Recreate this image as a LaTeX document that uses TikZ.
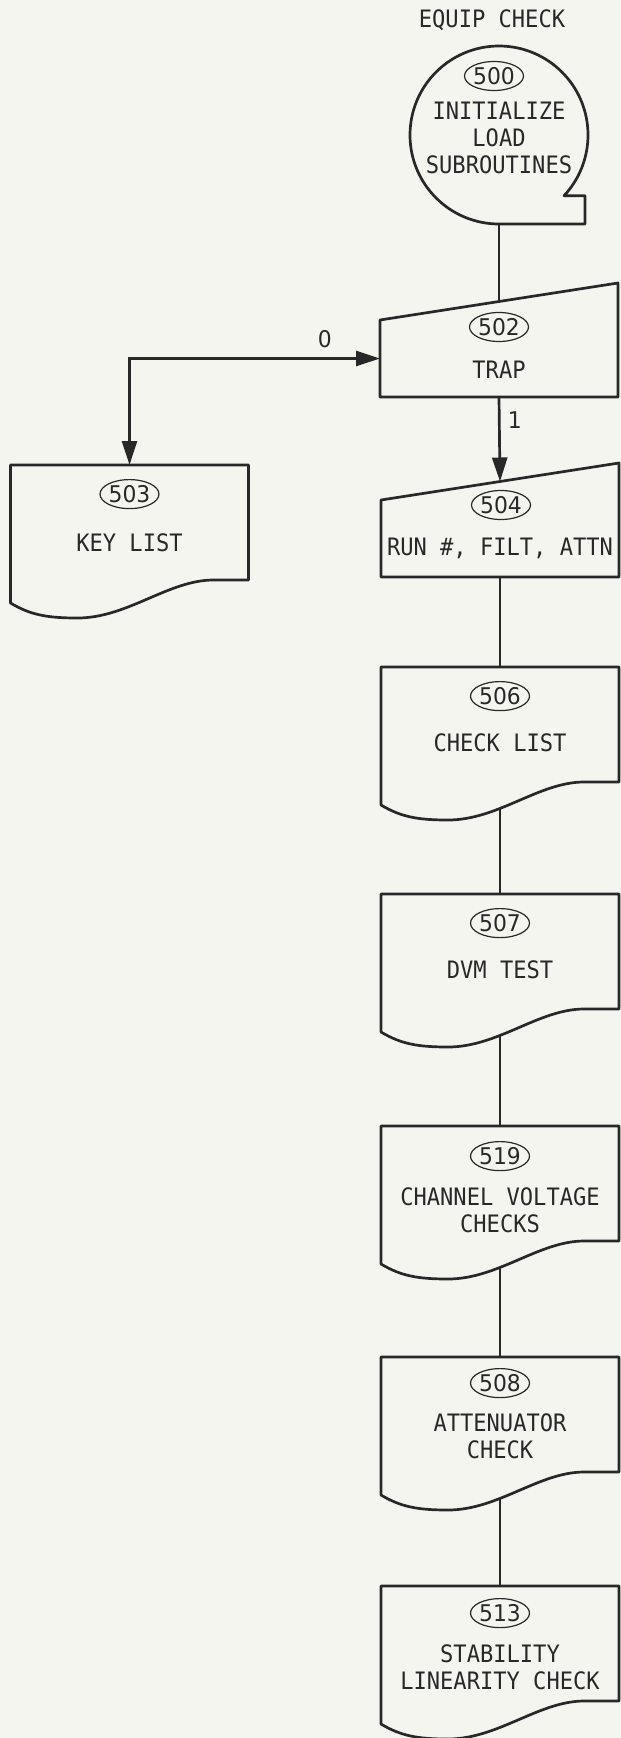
\documentclass[tikz,border=0pt]{standalone}
\usepackage{fontspec}
\setmainfont{DejaVu Sans Mono}[FakeStretch=0.92]
\newfontfamily\numfont{DejaVu Sans}[FakeStretch=0.95]
\usetikzlibrary{positioning,arrows.meta,calc,shapes.geometric}
\definecolor{paper}{RGB}{245,245,240}
\definecolor{ink}{RGB}{40,40,40}
\tikzset{
  emptyframe/.style={inner sep=0pt,outer sep=0pt},
  docbox/.style={emptyframe,minimum width=238pt,minimum height=138pt,anchor=north},
  trapbox/.style={emptyframe,minimum width=238pt,minimum height=77pt},
  boxline/.style={draw=ink,line width=2.7pt,fill=paper,line join=round},
  numoval/.style={draw=ink,ellipse,line width=1.2pt,fill=paper,inner sep=0pt,
    minimum width=50pt,minimum height=29pt,font=\numfont\fontsize{23}{25}\selectfont},
  flowlabel/.style={font=\numfont\fontsize{23}{25}\selectfont},
  boxtext/.style={align=center},
  flow/.style={draw=ink,line width=2.7pt},
  onetip/.style={-{Triangle[length=24pt,width=15pt]}},
  twotips/.style={{Triangle[length=24pt,width=15pt]}-{Triangle[length=24pt,width=15pt]}},
}
% outlines hung on the (empty) frame nodes
\newcommand{\trapoutline}[1]{%
  \draw[boxline] (#1.south west) -- (#1.north west)
    -- ($(#1.north east)+(0,-37)$) -- (#1.south east) -- cycle;}
\newcommand{\docoutline}[1]{%
  \draw[boxline] (#1.south west) -- (#1.north west) -- (#1.north east)
    -- ($(#1.south east)+(0,-23)$) -- ++(-35,0)
    .. controls +(-45,0) and +(50,0) .. ($(#1.south west)+(67,15)$)
    .. controls +(-30,0) and +(20,12) .. (#1.south west) -- cycle;}

\begin{document}
\begin{tikzpicture}[x=1pt,y=-1pt,font=\fontsize{24}{27}\selectfont,text=ink]
  \fill[paper] (0,0) rectangle (621,1738);
  \useasboundingbox (0,0) rectangle (621,1738);

  % frames first, outlines after the flow lines
  \node[emptyframe,circle,minimum size=178pt] (start) at (499,135) {};
  \node[trapbox] (trap) at (499,358.5) {};
  \node[trapbox] (runfilt) at (500,538.5) {};
  \node[docbox] (keylist) at (129.5,465) {};
  \node[docbox] (checklist) at (500,667) {};
  \node[docbox] (dvmtest) at (500,894) {};
  \node[docbox] (chanvolt) at (500,1126) {};
  \node[docbox] (attncheck) at (500,1357) {};
  \node[docbox] (stabcheck) at (500,1586) {};
  \coordinate (in504) at ($(runfilt.north)+(0,-18.5)$);

  % flow lines
  \draw[flow] (start.south) -- (trap.north);
  \draw[flow,onetip] (trap.south) -- node[pos=0.27,right=4pt,flowlabel] (one) {1} (in504);
  \draw[flow,twotips] (trap.west) -| node[pos=0.11,above=6pt,flowlabel] (zero) {0} (keylist.north);
  \draw[flow] (runfilt.south) -- (checklist.north);
  \draw[flow] (checklist.south) -- (dvmtest.north);
  \draw[flow] (dvmtest.south) -- (chanvolt.north);
  \draw[flow] (chanvolt.south) -- (attncheck.north);
  \draw[flow] (attncheck.south) -- (stabcheck.north);

  % outlines
  \draw[boxline] (start.south) arc[start angle=90,end angle=403,radius=89]
    -- ++(21,0) |- (start.south) -- cycle;
  \trapoutline{trap}
  \trapoutline{runfilt}
  \docoutline{keylist}
  \docoutline{checklist}
  \docoutline{dvmtest}
  \docoutline{chanvolt}
  \docoutline{attncheck}
  \docoutline{stabcheck}

  % texts
  \node (title) at (492,20) {EQUIP CHECK};
  \node[numoval] (n500) at ($(start.center)+(-5,-59)$) {500};
  \node[boxtext] (t500) at ($(start.center)+(0,3)$) {INITIALIZE\\LOAD\\SUBROUTINES};
  \node[numoval] (n502) at ($(trap.north)+(0,7)$) {502};
  \node[boxtext] (t502) at ($(trap.north)+(0,50)$) {TRAP};
  \node[numoval] (n504) at ($(runfilt.north)+(1,5)$) {504};
  \node[boxtext] (t504) at ($(runfilt.north)+(0,48)$) {RUN \#, FILT, ATTN};
  \node[numoval,below=14pt of keylist.north] (n503) {503};
  \node[boxtext] (t503) at ($(keylist.north)+(0,78)$) {KEY LIST};
  \node[numoval,below=14pt of checklist.north] (n506) {506};
  \node[boxtext] (t506) at ($(checklist.north)+(0,76)$) {CHECK LIST};
  \node[numoval,below=14pt of dvmtest.north] (n507) {507};
  \node[boxtext] (t507) at ($(dvmtest.north)+(0,76)$) {DVM TEST};
  \node[numoval,below=15pt of chanvolt.north] (n519) {519};
  \node[boxtext] (t519) at ($(chanvolt.north)+(0,84)$) {CHANNEL VOLTAGE\\CHECKS};
  \node[numoval,below=11pt of attncheck.north] (n508) {508};
  \node[boxtext] (t508) at ($(attncheck.north)+(0,79)$) {ATTENUATOR\\CHECK};
  \node[numoval,below=12pt of stabcheck.north] (n513) {513};
  \node[boxtext] (t513) at ($(stabcheck.north)+(0,81)$) {STABILITY\\LINEARITY CHECK};
\end{tikzpicture}
\end{document}
